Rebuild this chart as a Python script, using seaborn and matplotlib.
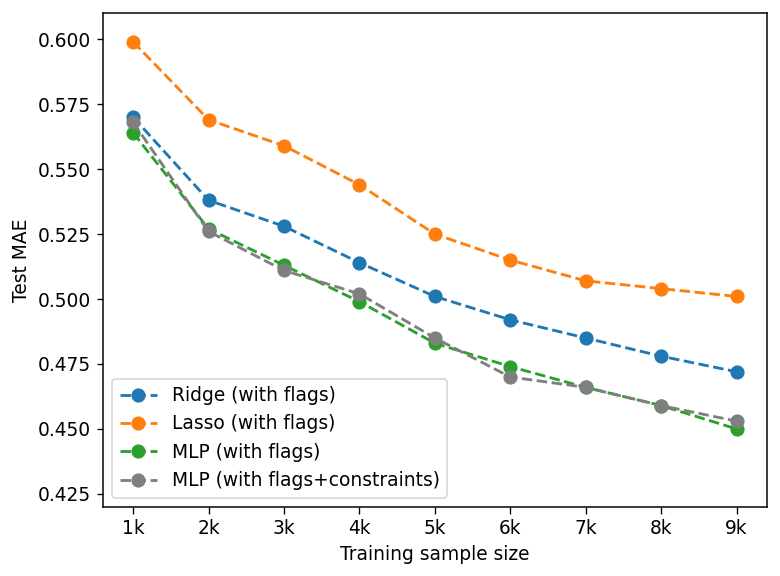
import matplotlib
matplotlib.use("Agg")
import matplotlib.pyplot as plt
import seaborn as sns
import pandas as pd

# sample sizes and test MAE per model
sizes = [1, 2, 3, 4, 5, 6, 7, 8, 9]
size_labels = ["1k", "2k", "3k", "4k", "5k", "6k", "7k", "8k", "9k"]
ridge = [0.570, 0.538, 0.528, 0.514, 0.501, 0.492, 0.485, 0.478, 0.472]
lasso = [0.599, 0.569, 0.559, 0.544, 0.525, 0.515, 0.507, 0.504, 0.501]
mlp = [0.564, 0.527, 0.513, 0.499, 0.483, 0.474, 0.466, 0.459, 0.450]
mlp_con = [0.568, 0.526, 0.511, 0.502, 0.485, 0.470, 0.466, 0.459, 0.453]

series = [
    ("Ridge (with flags)", ridge, "#1f77b4"),
    ("Lasso (with flags)", lasso, "#ff7f0e"),
    ("MLP (with flags)", mlp, "#2ca02c"),
    ("MLP (with flags+constraints)", mlp_con, "#7f7f7f"),
]

# reference looks rendered a bit larger than default
plt.rcParams["font.size"] = 11.2
plt.rcParams["xtick.major.size"] = 3.9
plt.rcParams["ytick.major.size"] = 3.9
plt.rcParams["axes.linewidth"] = 0.9

fig = plt.figure(figsize=(6.5, 4.8), dpi=120)
ax = fig.add_axes([0.132, 0.120, 0.851, 0.857])

for name, vals, col in series:
    df = pd.DataFrame({"size": sizes, "mae": vals})
    sns.lineplot(data=df, x="size", y="mae", ax=ax, color=col, label=name,
                 marker="o", linestyle="--", markersize=7.5,
                 markeredgecolor=col, markeredgewidth=1.0, linewidth=1.7)

ax.set_xticks(sizes)
ax.set_xticklabels(size_labels)
ax.set_ylim(0.42, 0.61)
ax.set_yticks([0.425, 0.450, 0.475, 0.500, 0.525, 0.550, 0.575, 0.600])
ax.set_xlabel("Training sample size")
ax.set_ylabel("Test MAE")
ax.legend(loc="lower left")

fig.savefig("out.png", dpi=120)
